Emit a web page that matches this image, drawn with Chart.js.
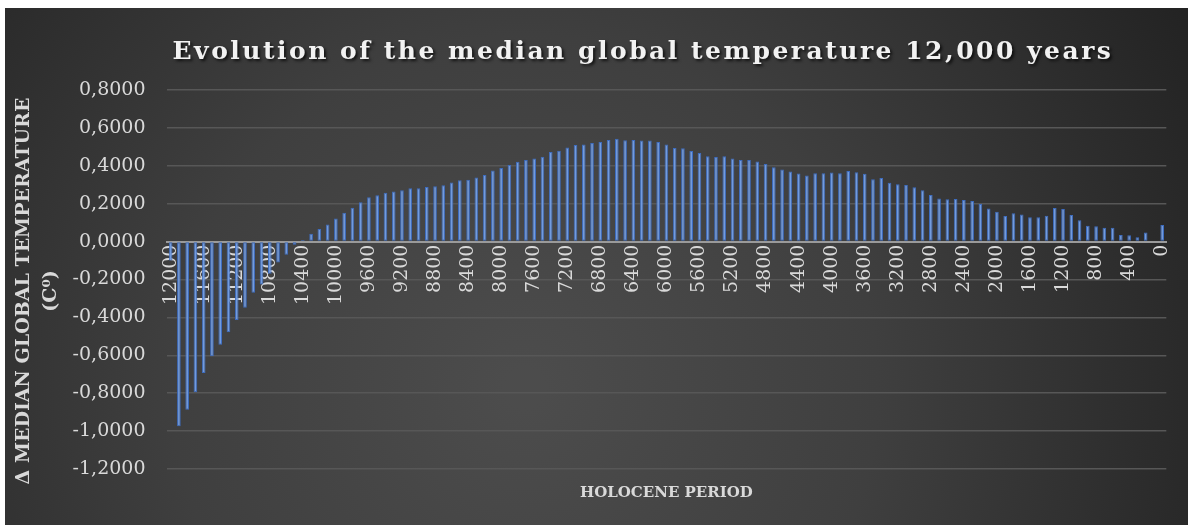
<!DOCTYPE html>
<html>
<head>
<meta charset="utf-8">
<script src="https://cdn.jsdelivr.net/npm/chart.js@4"></script>
<style>
  html, body { margin: 0; padding: 0; background: #ffffff; }
  #wrap { position: absolute; left: 5px; top: 8px; width: 1183px; height: 517px; }
</style>
</head>
<body>
<div id="wrap"><canvas id="c"></canvas></div>
<script>
const years = [12000,11900,11800,11700,11600,11500,11400,11300,11200,11100,11000,10900,10800,10700,10600,10500,10400,10300,10200,10100,10000,9900,9800,9700,9600,9500,9400,9300,9200,9100,9000,8900,8800,8700,8600,8500,8400,8300,8200,8100,8000,7900,7800,7700,7600,7500,7400,7300,7200,7100,7000,6900,6800,6700,6600,6500,6400,6300,6200,6100,6000,5900,5800,5700,5600,5500,5400,5300,5200,5100,5000,4900,4800,4700,4600,4500,4400,4300,4200,4100,4000,3900,3800,3700,3600,3500,3400,3300,3200,3100,3000,2900,2800,2700,2600,2500,2400,2300,2200,2100,2000,1900,1800,1700,1600,1500,1400,1300,1200,1100,1000,900,800,700,600,500,400,300,200,100,0];

const deltaTemp = [-0.100,-0.975,-0.887,-0.795,-0.693,-0.605,-0.544,-0.478,-0.414,-0.349,
  -0.270,-0.226,-0.170,-0.110,-0.070,-0.016,0.009,0.042,0.067,0.090,
  0.122,0.152,0.179,0.207,0.234,0.244,0.258,0.265,0.271,0.281,
  0.281,0.288,0.292,0.297,0.312,0.324,0.326,0.338,0.352,0.375,
  0.388,0.404,0.421,0.430,0.439,0.448,0.473,0.480,0.496,0.510,
  0.512,0.520,0.526,0.536,0.543,0.535,0.536,0.533,0.533,0.526,
  0.513,0.494,0.492,0.478,0.467,0.451,0.446,0.451,0.439,0.430,
  0.430,0.423,0.409,0.393,0.381,0.370,0.359,0.349,0.361,0.361,
  0.365,0.361,0.373,0.366,0.358,0.329,0.335,0.310,0.303,0.299,
  0.287,0.271,0.246,0.228,0.223,0.225,0.219,0.214,0.198,0.175,
  0.158,0.135,0.150,0.143,0.129,0.129,0.136,0.177,0.172,0.140,
  0.113,0.083,0.081,0.073,0.073,0.035,0.034,0.023,0.048,0.000,
  0.087];

const shownTicks = ['12000','11600','11200','10800','10400','10000','9600','9200','8800','8400','8000','7600','7200','6800','6400','6000','5600','5200','4800','4400','4000','3600','3200','2800','2400','2000','1600','1200','800','400','0'];

const yTicks = { min: -1.2, max: 0.8, step: 0.2 };

const chartTitle = 'Evolution of the median global temperature 12,000 years';
const xTitle = 'HOLOCENE PERIOD';
const yTitle = ['\u0394 MEDIAN GLOBAL TEMPERATURE', '(C\u2070)'];

const bgPlugin = {
  id: 'bg',
  beforeDraw(chart) {
    const ctx = chart.ctx, w = chart.width, h = chart.height;
    ctx.save();
    const g = ctx.createRadialGradient(520, 380, 20, 520, 380, 760);
    g.addColorStop(0, '#4c4c4c');
    g.addColorStop(0.45, '#3f3f3f');
    g.addColorStop(1, '#232323');
    ctx.fillStyle = g;
    ctx.fillRect(0, 0, w, h);
    ctx.restore();
  }
};

const textPlugin = {
  id: 'texts',
  afterDraw(chart) {
    const ctx = chart.ctx;
    const ca = chart.chartArea;
    ctx.save();
    ctx.font = 'bold 25px "DejaVu Serif"';
    ctx.letterSpacing = '2.5px';
    ctx.fillStyle = '#f2f2f2';
    ctx.textAlign = 'center';
    ctx.textBaseline = 'middle';
    ctx.shadowColor = 'rgba(0,0,0,0.7)';
    ctx.shadowOffsetX = 2;
    ctx.shadowOffsetY = 2;
    ctx.shadowBlur = 3;
    ctx.fillText(chartTitle, 638, 44);
    ctx.restore();

    ctx.save();
    ctx.fillStyle = '#d9d9d9';
    ctx.textAlign = 'center';
    ctx.textBaseline = 'middle';
    ctx.font = 'bold 15px "DejaVu Serif"';
    ctx.fillText(xTitle, (ca.left + ca.right) / 2, 485);
    ctx.translate(0, 283);
    ctx.rotate(-Math.PI / 2);
    ctx.font = 'bold 19px "DejaVu Serif"';
    ctx.fillText(yTitle[0], 0, 19);
    ctx.fillText(yTitle[1], 0, 46);
    ctx.restore();
  }
};

new Chart(document.getElementById('c'), {
  type: 'bar',
  data: {
    labels: years.map(String),
    datasets: [{
      data: deltaTemp,
      backgroundColor: '#729bde',
      borderColor: '#3d6cbf',
      borderWidth: 1,
      borderSkipped: false,
      barPercentage: 0.44,
      categoryPercentage: 1.0
    }]
  },
  options: {
    responsive: true,
    maintainAspectRatio: false,
    animation: false,
    layout: { padding: { top: 82, right: 4.5, left: 0, bottom: 56 } },
    plugins: { legend: { display: false }, title: { display: false }, tooltip: { enabled: false } },
    scales: {
      x: {
        position: { y: 0 },
        grid: { display: false, drawTicks: false },
        border: { display: true, color: '#9a9a9a', width: 2 },
        ticks: {
          autoSkip: false, maxRotation: 90, minRotation: 90, padding: 3,
          color: '#d9d9d9', font: { family: '"DejaVu Serif"', size: 19 },
          callback: function (v) {
            const l = this.getLabelForValue(v);
            return shownTicks.includes(l) ? l : '';
          }
        },
        afterFit(s) { s.height = 56; }
      },
      y: {
        min: yTicks.min, max: yTicks.max,
        grid: { color: '#575757', lineWidth: 1.5, drawTicks: false },
        border: { display: false },
        ticks: {
          stepSize: yTicks.step, padding: 21, color: '#d9d9d9',
          font: { family: '"DejaVu Serif"', size: 19 },
          callback: (v) => Number(v).toFixed(4).replace('.', ',')
        },
        afterFit(s) { s.width = 161.5; }
      }
    }
  },
  plugins: [bgPlugin, textPlugin]
});
</script>
</body>
</html>
